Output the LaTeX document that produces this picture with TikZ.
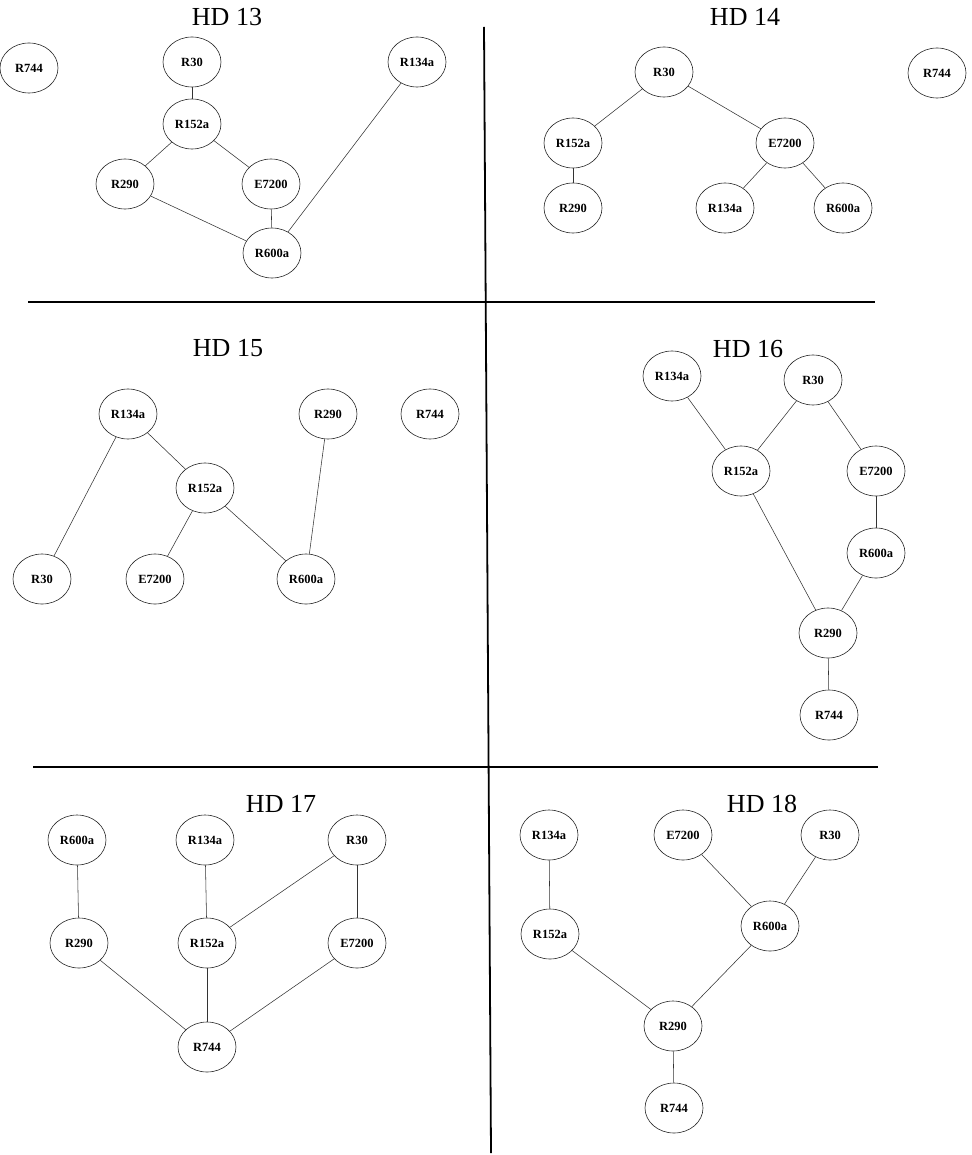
\documentclass[tikz,border=0pt]{standalone}
\usepackage{fontspec}
\setmainfont{Liberation Serif}
\usetikzlibrary{shapes.geometric}
\tikzset{
  ref/.style={ellipse, draw=black!85, line width=0.6pt, minimum width=58pt, minimum height=50pt, inner sep=0pt, font=\fontsize{12.5}{13}\selectfont\bfseries},
  link/.style={draw=black!80, line width=0.55pt},
  divider/.style={draw=black, line width=1.8pt},
  paneltitle/.style={font=\fontsize{26}{28}\selectfont, inner sep=0pt}
}
\begin{document}
\begin{tikzpicture}[x=1pt,y=-1pt]
\useasboundingbox (0,0) rectangle (971,1155);
% dividers
\coordinate (vt) at (484,27);
\coordinate (vb) at (491,1153);
\coordinate (h1l) at (28,302);
\coordinate (h1r) at (875,302);
\coordinate (h2l) at (33,767);
\coordinate (h2r) at (878,767);
\draw[divider] (vt) -- (vb);
\draw[divider] (h1l) -- (h1r);
\draw[divider] (h2l) -- (h2r);

% ---------- HD 13 ----------
\node[paneltitle] (t13) at (227,17) {HD 13};
\node[ref] (a744) at (29,68) {R744};
\node[ref] (a30) at (192,62) {R30};
\node[ref] (a134) at (417,62) {R134a};
\node[ref] (a152) at (192,124) {R152a};
\node[ref] (a290) at (125,184) {R290};
\node[ref] (a7200) at (271,184) {E7200};
\node[ref] (a600) at (272,253) {R600a};
\draw[link] (a30) -- (a152);
\draw[link] (a152) -- (a290);
\draw[link] (a152) -- (a7200);
\draw[link] (a290) -- (a600);
\draw[link] (a7200) -- (a600);
\draw[link] (a134) -- (a600);

% ---------- HD 14 ----------
\node[paneltitle] (t14) at (745,17) {HD 14};
\node[ref] (b30) at (664,72) {R30};
\node[ref] (b744) at (937,73) {R744};
\node[ref] (b152) at (573,143) {R152a};
\node[ref] (b7200) at (785,143) {E7200};
\node[ref] (b290) at (573,208) {R290};
\node[ref] (b134) at (725,208) {R134a};
\node[ref] (b600) at (843,208) {R600a};
\draw[link] (b30) -- (b152);
\draw[link] (b30) -- (b7200);
\draw[link] (b152) -- (b290);
\draw[link] (b7200) -- (b134);
\draw[link] (b7200) -- (b600);

% ---------- HD 15 ----------
\node[paneltitle] (t15) at (228,348) {HD 15};
\node[ref] (c134) at (128,414) {R134a};
\node[ref] (c290) at (328,414) {R290};
\node[ref] (c744) at (430,414) {R744};
\node[ref] (c152) at (205,488) {R152a};
\node[ref] (c30) at (42,579) {R30};
\node[ref] (c7200) at (155,579) {E7200};
\node[ref] (c600) at (306,579) {R600a};
\draw[link] (c134) -- (c152);
\draw[link] (c134) -- (c30);
\draw[link] (c152) -- (c7200);
\draw[link] (c152) -- (c600);
\draw[link] (c290) -- (c600);

% ---------- HD 16 ----------
\node[paneltitle] (t16) at (748,349) {HD 16};
\node[ref] (d134) at (672,376) {R134a};
\node[ref] (d30) at (813,380) {R30};
\node[ref] (d152) at (741,471) {R152a};
\node[ref] (d7200) at (876,471) {E7200};
\node[ref] (d600) at (876,553) {R600a};
\node[ref] (d290) at (828,633) {R290};
\node[ref] (d744) at (829,715) {R744};
\draw[link] (d134) -- (d152);
\draw[link] (d30) -- (d152);
\draw[link] (d30) -- (d7200);
\draw[link] (d7200) -- (d600);
\draw[link] (d152) -- (d290);
\draw[link] (d600) -- (d290);
\draw[link] (d290) -- (d744);

% ---------- HD 17 ----------
\node[paneltitle] (t17) at (281,804) {HD 17};
\node[ref] (e600) at (77,840) {R600a};
\node[ref] (e134) at (205,840) {R134a};
\node[ref] (e30) at (357,840) {R30};
\node[ref] (e290) at (79,943) {R290};
\node[ref] (e152) at (207,943) {R152a};
\node[ref] (e7200) at (357,943) {E7200};
\node[ref] (e744) at (207,1047) {R744};
\draw[link] (e600) -- (e290);
\draw[link] (e134) -- (e152);
\draw[link] (e30) -- (e152);
\draw[link] (e30) -- (e7200);
\draw[link] (e290) -- (e744);
\draw[link] (e152) -- (e744);
\draw[link] (e7200) -- (e744);

% ---------- HD 18 ----------
\node[paneltitle] (t18) at (762,804) {HD 18};
\node[ref] (f134) at (549,835) {R134a};
\node[ref] (f7200) at (683,835) {E7200};
\node[ref] (f30) at (830,835) {R30};
\node[ref] (f152) at (550,934) {R152a};
\node[ref] (f600) at (770,926) {R600a};
\node[ref] (f290) at (673,1026) {R290};
\node[ref] (f744) at (674,1108) {R744};
\draw[link] (f134) -- (f152);
\draw[link] (f7200) -- (f600);
\draw[link] (f30) -- (f600);
\draw[link] (f152) -- (f290);
\draw[link] (f600) -- (f290);
\draw[link] (f290) -- (f744);
\end{tikzpicture}
\end{document}
